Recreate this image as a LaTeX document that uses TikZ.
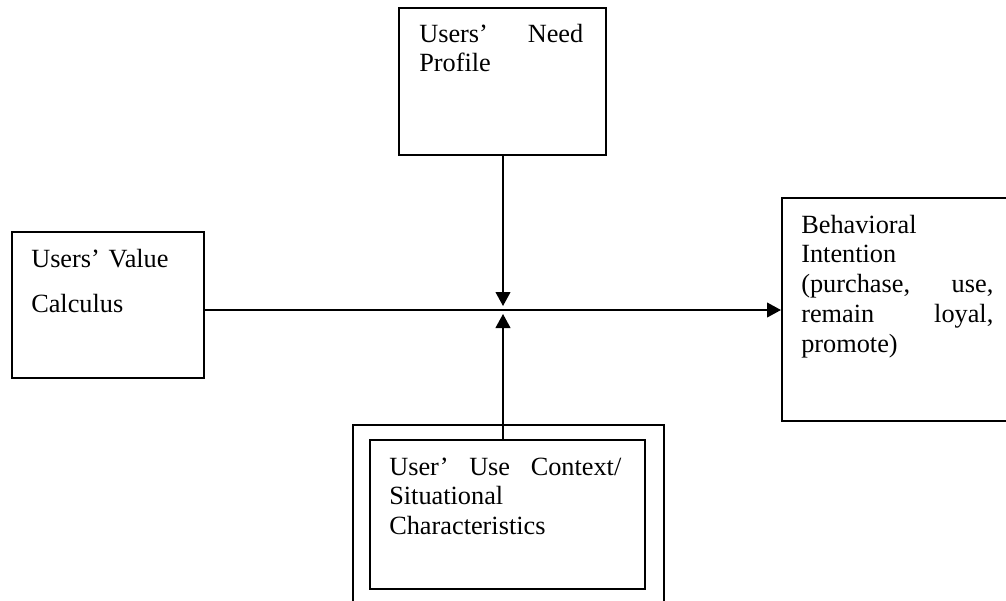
\documentclass[tikz,border=0pt]{standalone}
\usepackage{fontspec}
\setmainfont{Liberation Serif}
\usetikzlibrary{arrows.meta,positioning,calc}

\begin{document}
\begin{tikzpicture}[x=0.025cm, y=-0.025cm,
    box/.style={draw, line width=1.3pt, anchor=north west, inner sep=0pt},
    boxtext/.style={anchor=base west, inner sep=0pt, align=left, font=\fontsize{18.7}{21.3}\selectfont},
    link/.style={line width=1.1pt, -{Triangle[length=0.35cm, width=0.37cm]}}]
    \useasboundingbox (0,0) rectangle (1006,600);
    \clip (0,0) rectangle (1006,600);

    % Boxes
    \node[box, minimum width=5.175cm, minimum height=3.675cm] (need) at (398,7) {};
    \node[box, minimum width=4.8cm, minimum height=3.65cm] (value) at (11,231) {};
    \node[box, minimum width=6.5cm, minimum height=5.575cm] (intention) at (781,197) {};
    \node[box, minimum width=7.775cm, minimum height=5cm] (frame) at (352,424) {};
    \node[box, minimum width=6.875cm, minimum height=3.725cm] (context) at (369,439) {};

    % Texts
    \node[boxtext, text width=4.1cm] (needtxt) at (419,42) {Users'\hfill Need\\Profile};
    \node[boxtext, text width=4cm] (valuetxt) at (31,267) {Users' Value\\[0.4cm]Calculus};
    \node[boxtext, text width=4.8cm] (intentiontxt) at (801,233)
        {Behavioral\\Intention\\(purchase,\hfill use,\\remain\hfill loyal,\\promote)};
    \node[boxtext, text width=5.8cm] (contexttxt) at (389,475)
        {User'\hfill Use\hfill Context/\\Situational\\Characteristics};

    % Junction on the main line
    \coordinate (junction) at (503,310);
    \coordinate (jtop) at (503,306);
    \coordinate (jbot) at (503,314);

    % Arrows
    \draw[link] (value.east |- junction) -- (intention.west |- junction);
    \draw[link] (need.south -| junction) -- (jtop);
    \draw[link] (context.north -| junction) -- (jbot);
\end{tikzpicture}
\end{document}
